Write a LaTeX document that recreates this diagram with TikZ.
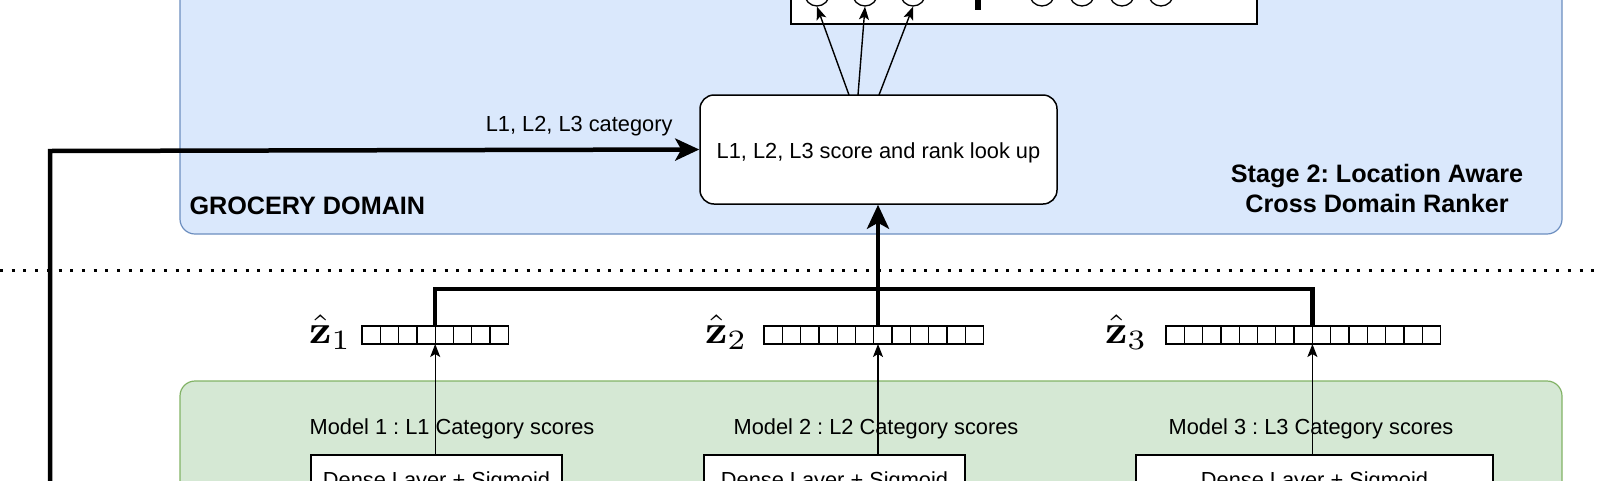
\documentclass[tikz,border=0pt]{standalone}
\usepackage[no-math]{fontspec}
\setmainfont{Liberation Sans}
\usetikzlibrary{arrows.meta}
\definecolor{bluefill}{HTML}{DAE8FC}
\definecolor{bluestroke}{HTML}{6C8EBF}
\definecolor{greenfill}{HTML}{D5E8D4}
\definecolor{greenstroke}{HTML}{82B366}
\tikzset{
  reg/.style={font=\fontsize{21.8}{26}\selectfont},
  boldlbl/.style={font=\fontsize{25.2}{30}\selectfont\bfseries},
  bluebox/.style={fill=bluefill,draw=bluestroke,line width=1.2pt,rounded corners=15pt},
  greenbox/.style={fill=greenfill,draw=greenstroke,line width=1.2pt,rounded corners=15pt},
  whitebox/.style={fill=white,draw=black,line width=1.5pt},
  thickline/.style={line width=4.5pt,draw=black},
  thickarrow/.style={line width=4.5pt,draw=black,-{Stealth[length=24pt,width=22pt,inset=6pt]}},
  thinarrow/.style={line width=1.4pt,draw=black,-{Stealth[length=13pt,width=10pt,inset=3pt]}},
  cell/.style={draw=black,line width=1.3pt},
  zlbl/.style={font=\fontsize{10}{12}\selectfont,inner sep=0pt,anchor=base west},
}
\newcommand{\zhat}[1]{\scalebox{4.4}[4]{$\hat{\mathbf{z}}_{#1}$}}
\frenchspacing
\begin{document}
\begin{tikzpicture}[x=1pt,y=-1pt]
\useasboundingbox (0,0) rectangle (1600,480);
\clip (0,0) rectangle (1600,480);
% containers
\draw[bluebox] (180,-60) rectangle (1562,234);
\draw[greenbox] (180,381) rectangle (1562,580);
% top output box
\draw[whitebox] (791,-80) rectangle (1257,24);
\foreach \cx/\nm in {817/c1,865/c2,913/c3,1042/c4,1082/c5,1122/c6,1161/c7}{
  \node[circle,draw=black,fill=white,line width=1.3pt,minimum size=25pt,inner sep=0pt] (\nm) at (\cx,-6.5) {};
}
\fill[black] (975,-10) rectangle (981,10);
% lookup box
\node[draw=black,fill=white,line width=1.5pt,rounded corners=14pt,minimum width=357pt,minimum height=109pt,inner sep=0pt] (lookup) at (878.5,149.5) {};
\node[reg] (lookuptxt) at (878.5,152.5) {L1, L2, L3 score and rank look up};
\coordinate (s1) at (849,95);
\coordinate (s2) at (858,95);
\coordinate (s3) at (879,95);
\draw[thinarrow] (s1) -- (c1.south);
\draw[thinarrow] (s2) -- (c2.south);
\draw[thinarrow] (s3) -- (c3.south);
% labels in blue region
\node[boldlbl,anchor=west] (grocery) at (186,206) {GROCERY DOMAIN};
\node[boldlbl,align=center] (stage) at (1377,188) {Stage 2: Location Aware\\Cross Domain Ranker};
% left arrow
\coordinate (lstart) at (50,500);
\coordinate (lcorner) at (50,151);
\draw[thickarrow] (lstart) -- (lcorner) -- (lookup.west);
\node[reg,anchor=east] (catlbl) at (676,126) {L1, L2, L3 category};
% dotted separator
\coordinate (d0) at (0,270);
\coordinate (d1) at (1600,270);
\draw[line width=3pt,dash pattern=on 3pt off 8.7pt] (d0) -- (d1);
% vectors
\def\cs{18.3}
\foreach \x in {0,...,7}{\draw[cell] (362+\x*\cs,326) rectangle ++(\cs,18);}
\foreach \x in {0,...,11}{\draw[cell] (764+\x*\cs,326) rectangle ++(\cs,18);}
\foreach \x in {0,...,14}{\draw[cell] (1166+\x*\cs,326) rectangle ++(\cs,18);}
\node[zlbl] (z1) at (309,343) {\zhat{1}};
\node[zlbl] (z2) at (705,343) {\zhat{2}};
\node[zlbl] (z3) at (1105,343) {\zhat{3}};
% vector attach points
\coordinate (v1t) at (435.2,326);
\coordinate (v2t) at (878,326);
\coordinate (v3t) at (1312.4,326);
\coordinate (v1b) at (435.2,344);
\coordinate (v2b) at (878,344);
\coordinate (v3b) at (1312.4,344);
\coordinate (h1) at (435.2,289);
\coordinate (h3) at (1312.4,289);
\draw[thickline] (v1t) -- (h1) -- (h3) -- (v3t);
\draw[thickarrow] (v2t) -- (lookup.south -| v2t);
% model labels
\node[reg] (m1) at (452,429) {Model 1 : L1 Category scores};
\node[reg] (m2) at (876,429) {Model 2 : L2 Category scores};
\node[reg] (m3) at (1311,429) {Model 3 : L3 Category scores};
% dense boxes
\node[whitebox,minimum width=251pt,minimum height=70pt,inner sep=0pt,anchor=north] (d1box) at (436.5,454) {};
\node[whitebox,minimum width=261pt,minimum height=70pt,inner sep=0pt,anchor=north] (d2box) at (834.5,454) {};
\node[whitebox,minimum width=357pt,minimum height=70pt,inner sep=0pt,anchor=north] (d3box) at (1314.5,454) {};
\node[reg,anchor=base] (t1) at (436.5,487) {Dense Layer + Sigmoid};
\node[reg,anchor=base] (t2) at (834.5,487) {Dense Layer + Sigmoid};
\node[reg,anchor=base] (t3) at (1314.5,487) {Dense Layer + Sigmoid};
\draw[thinarrow] (d1box.north -| v1b) -- (v1b);
\draw[thinarrow] (d2box.north -| v2b) -- (v2b);
\draw[thinarrow] (d3box.north -| v3b) -- (v3b);
\end{tikzpicture}
\end{document}
